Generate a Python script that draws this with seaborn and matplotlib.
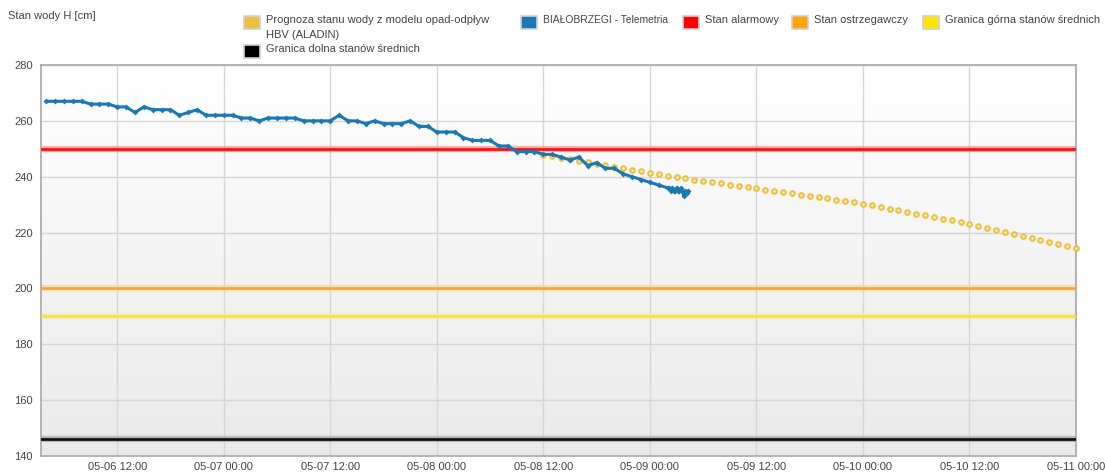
import numpy as np
import pandas as pd
import matplotlib
matplotlib.use("Agg")
import matplotlib.pyplot as plt
from matplotlib.patches import Rectangle
from matplotlib.colors import LinearSegmentedColormap
import seaborn as sns

# --- data ---
# telemetry, hourly readings starting 05-06 04:00
tele_start = "2024-05-06 04:00"
tele_hourly = [267, 267, 267, 267, 267, 266, 266, 266, 265, 265, 263, 265, 264, 264, 264, 262,
               263, 264, 262, 262,
               262, 262, 261, 261, 260, 261, 261, 261, 261, 260, 260, 260, 260, 262, 260, 260,
               259, 260, 259, 259, 259, 260, 258, 258,
               256, 256, 256, 254, 253, 253, 253, 251, 251, 249, 249, 249, 248, 248, 247, 246,
               247, 244, 245, 243, 243, 241, 240, 239,
               238, 237, 236]
# last readings every 10 minutes, from 05-09 02:10
tail_start = "2024-05-09 02:10"
tele_tail = [236, 235, 236, 235, 235, 236, 235, 235, 236, 235, 233, 235, 234, 235]

# forecast HBV (ALADIN), hourly from 05-08 12:00
fc_start = "2024-05-08 12:00"
forecast = [247.8, 247.3, 246.8, 246.2, 245.7, 245.1, 244.6, 244.1, 243.5, 243.0, 242.4, 241.9,
            241.3, 240.9, 240.4, 239.9, 239.4, 239.0, 238.5, 238.1, 237.6, 237.1, 236.7, 236.2,
            235.8, 235.3, 234.9, 234.4, 234.0, 233.5, 233.1, 232.6, 232.2, 231.7, 231.3, 230.8,
            230.4, 229.8, 229.2, 228.6, 228.0, 227.4, 226.8, 226.2, 225.6, 225.0, 224.4, 223.8,
            223.1, 222.4, 221.7, 221.0, 220.3, 219.6, 218.8, 218.1, 217.4, 216.7, 216.0, 215.3,
            214.6]

stan_alarmowy = 250
stan_ostrzegawczy = 200
granica_gorna = 190
granica_dolna = 146

tick_labels = ["05-06 12:00", "05-07 00:00", "05-07 12:00", "05-08 00:00", "05-08 12:00",
               "05-09 00:00", "05-09 12:00", "05-10 00:00", "05-10 12:00", "05-11 00:00"]
y_ticks = [140, 160, 180, 200, 220, 240, 260, 280]

# --- build frames ---
t1 = pd.date_range(tele_start, periods=len(tele_hourly), freq="h")
t2 = pd.date_range(tail_start, periods=len(tele_tail), freq="10min")
df_tele = pd.DataFrame({"czas": t1.append(t2), "H": tele_hourly + tele_tail})
df_fc = pd.DataFrame({"czas": pd.date_range(fc_start, periods=len(forecast), freq="h"),
                      "H": forecast})

# --- style ---
sns.set_style("white")
plt.rcParams["font.family"] = ["Liberation Sans", "DejaVu Sans"]

BLUE = "#1a78b2"
YEL_EDGE = "#efc040"
fig = plt.figure(figsize=(11.05, 4.73), dpi=100)
W, H = 1105, 473
ax = fig.add_axes([41 / W, 1 - 456 / H, (1076 - 41) / W, (456 - 65) / H])

# gradient background of plot area
grad = np.linspace(0, 1, 256).reshape(-1, 1)
cmap_bg = LinearSegmentedColormap.from_list("bg", ["#ffffff", "#eaeaea"])
ax.imshow(grad, cmap=cmap_bg, extent=(0, 1, 0, 1), transform=ax.transAxes,
          aspect="auto", origin="upper", zorder=0)

# threshold lines
for val, col, glow in [(stan_alarmowy, "#ff1010", "#ff8080"),
                       (stan_ostrzegawczy, "#f8a83a", "#fbd49c"),
                       (granica_gorna, "#f7e04a", "#fbef9e"),
                       (granica_dolna, "#111111", "#9a9a9a")]:
    ax.axhline(val, color=glow, lw=4.5, alpha=0.6, zorder=2)
    ax.axhline(val, color=col, lw=2.0, zorder=3)

# forecast dots
sns.scatterplot(data=df_fc, x="czas", y="H", ax=ax, marker="o", s=11,
                facecolor="#fdf6dc", edgecolor=YEL_EDGE, linewidth=1.5, zorder=4,
                legend=False, clip_on=False)

# telemetry
sns.lineplot(data=df_tele, x="czas", y="H", ax=ax, color=BLUE, lw=2.2, marker="D",
             markersize=3.0, markeredgewidth=0, zorder=5, legend=False)

tick_pos = pd.date_range("2024-05-06 12:00", periods=len(tick_labels), freq="12h")
ax.set_xticks(tick_pos)
ax.set_xticklabels(tick_labels)
ax.set_yticks(y_ticks)
ax.set_xlim(pd.Timestamp("2024-05-06 03:25"), pd.Timestamp("2024-05-11 00:00"))
ax.set_ylim(140, 280)
ax.set_xlabel("")
ax.set_ylabel("")
ax.grid(True, color="#d6d6d6", lw=1)
ax.set_axisbelow(True)
for s in ax.spines.values():
    s.set_color("#a8a8a8")
    s.set_linewidth(1.2)
ax.tick_params(axis="both", labelsize=8, colors="#444444", length=0, pad=4)
ax.tick_params(axis="y", length=3, color="#a8a8a8", pad=3)

# y-axis title
fig.text(8 / W, 1 - 16 / H, "Stan wody H [cm]", fontsize=8, color="#444444", va="center")

# legend drawn by hand at the top
items = [
    (244, 16, YEL_EDGE, ["Prognoza stanu wody z modelu opad-odpływ", "HBV (ALADIN)"], 8),
    (244, 45, "#000000", ["Granica dolna stanów średnich"], 8),
    (521, 16, BLUE, ["BIAŁOBRZEGI - Telemetria"], 7.4),
    (683, 16, "#ff0000", ["Stan alarmowy"], 8),
    (792, 16, "#ffa500", ["Stan ostrzegawczy"], 8),
    (923, 16, "#ffe500", ["Granica górna stanów średnich"], 8),
]
for x, y, col, lines, fs in items:
    fig.patches.append(Rectangle((x / W, 1 - (y + 13) / H), 16 / W, 13 / H,
                                 transform=fig.transFigure, facecolor=col,
                                 edgecolor="#d0d0d0", lw=1.2))
    for i, line in enumerate(lines):
        fig.text((x + 22) / W, 1 - (y + 4 + 15 * i) / H, line, fontsize=fs,
                 color="#444444", va="center")

fig.savefig("out.png", dpi=100)
